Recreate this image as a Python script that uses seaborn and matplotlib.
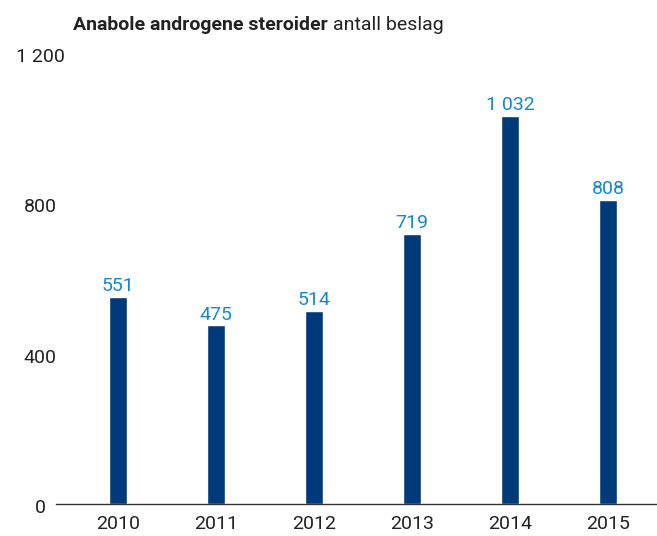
import matplotlib
matplotlib.use("Agg")
import matplotlib.pyplot as plt
import matplotlib.transforms as mtransforms
import seaborn as sns
import pandas as pd

years = ["2010", "2011", "2012", "2013", "2014", "2015"]
values = [551, 475, 514, 719, 1032, 808]
value_labels = ["551", "475", "514", "719", "1 032", "808"]
yticks = [0, 400, 800, 1200]
ytick_labels = ["0", "400", "800", "1 200"]

sns.set_theme(style="white")
plt.rcParams["font.family"] = ["Roboto", "DejaVu Sans"]

df = pd.DataFrame({"year": years, "value": values})

fig = plt.figure(figsize=(6.57, 5.36), dpi=100)
ax = fig.add_axes([56 / 657, 1 - 504 / 536, 1 - 56 / 657, (504 - 53) / 536])

sns.barplot(data=df, x="year", y="value", color="#003a7a", width=0.19,
            saturation=1, ax=ax)

ax.set_xlim(-0.633, 5.5)
ax.set_ylim(0, 1200)
for s in ["top", "right", "left"]:
    ax.spines[s].set_visible(False)
ax.spines["bottom"].set_color("#333333")
ax.spines["bottom"].set_linewidth(1.0)
ax.set_xlabel("")
ax.set_ylabel("")

ax.set_yticks(yticks)
ax.set_yticklabels([])
ax.tick_params(axis="y", length=0)
ax.tick_params(axis="x", length=0, pad=8, labelsize=14, labelcolor="#222222")

ytrans = mtransforms.blended_transform_factory(fig.transFigure, ax.transData)
ytrans = ytrans + mtransforms.ScaledTranslation(0, -4 / 100, fig.dpi_scale_trans)
for t, lab in zip(yticks, ytick_labels):
    ax.text(40 / 657, t, lab, transform=ytrans, ha="center", va="center",
            fontsize=14, color="#222222")

for i, (v, lab) in enumerate(zip(values, value_labels)):
    ax.text(i, v + 5, lab, ha="center", va="bottom", fontsize=14,
            color="#1a86c8")

t1 = fig.text(73 / 657, 1 - 25 / 536, "Anabole androgene steroider",
              fontsize=14, fontweight="bold", color="#222222", va="center")
fig.canvas.draw()
bb = t1.get_window_extent()
fig.text((bb.x1 + 5) / fig.bbox.width, 1 - 25 / 536, "antall beslag",
         fontsize=14, color="#222222", va="center")

fig.savefig("out.png", dpi=100)
